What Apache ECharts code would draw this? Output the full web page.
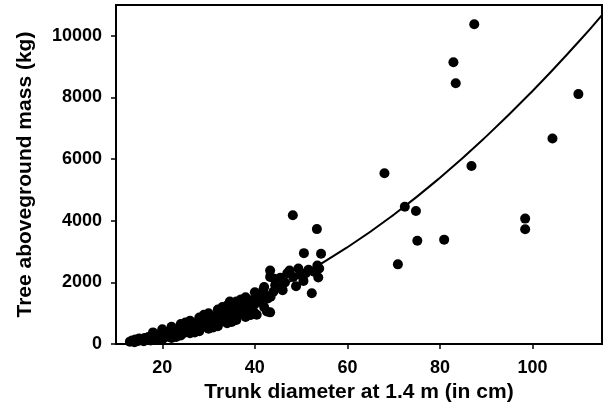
<!DOCTYPE html>
<html style="height: 100%">
<head>
  <meta charset="utf-8">
  <script type="text/javascript" src="https://cdn.jsdelivr.net/npm/echarts@6/dist/echarts.min.js"></script>
</head>
<body style="height: 100%; margin: 0; background: #fff">
  <div id="container" style="width: 604px; height: 408px"></div>
  <script type="text/javascript">
    // trunk diameter (cm) / aboveground mass (kg)
    var treePoints = [
      [13.0, 80], [13.5, 120], [14.0, 60], [14.2, 150], [14.8, 100], [15.0, 180], [15.5, 130], [16.0, 90],
      [16.2, 200], [16.8, 150], [17.0, 230], [17.5, 120], [17.8, 190], [18.2, 260], [18.5, 160], [19.0, 220],
      [19.3, 300], [19.8, 180], [20.0, 270], [20.3, 350], [20.8, 230], [21.0, 310], [21.5, 400], [21.8, 260],
      [22.0, 340], [22.5, 430], [22.8, 300], [23.0, 380], [23.5, 480], [23.8, 330], [24.0, 420], [24.5, 550],
      [24.8, 370], [25.0, 470], [25.5, 600], [25.8, 420], [26.0, 520], [26.5, 650], [26.8, 450], [27.0, 560],
      [27.5, 700], [28.0, 500], [28.2, 620], [28.6, 760], [29.0, 560], [29.4, 680], [29.8, 820], [30.0, 600],
      [30.4, 730], [30.8, 880], [31.0, 650], [31.5, 790], [31.8, 940], [32.0, 700], [32.5, 850], [32.8, 1000],
      [33.0, 760], [33.5, 900], [33.8, 1080], [34.0, 800], [34.5, 960], [34.6, 1380], [34.8, 1150], [35.0, 870],
      [35.5, 1030], [35.8, 1250], [36.0, 920], [36.5, 1100], [36.8, 1300], [37.0, 980], [37.5, 1170], [38.0, 1360],
      [38.3, 1050], [38.8, 1240], [39.2, 1420], [39.5, 1120], [40.0, 1300], [40.4, 950], [40.5, 1500], [41.0, 1380],
      [41.5, 1600], [41.8, 1750], [42.0, 1200], [42.6, 1060], [42.8, 1480], [43.3, 2180], [43.3, 2390], [43.4, 1540],
      [43.3, 1030], [44.0, 1700], [44.2, 2120], [44.4, 1910], [45.0, 1850], [45.5, 2150], [46.0, 1750], [46.5, 2000],
      [47.0, 2300], [47.5, 2390], [48.3, 2180], [48.9, 1880], [49.4, 2450], [49.8, 2250], [50.5, 2050], [51.0, 2300],
      [51.6, 2410], [52.3, 1650], [52.8, 2350], [53.5, 2550], [53.7, 2160], [53.9, 2450], [50.6, 2950], [54.3, 2930],
      [53.4, 3730], [48.2, 4180],
      // upper and lower edge of the dense band
      [18.0, 380], [20.0, 480], [22.0, 560], [24.0, 650], [25.0, 700], [26.0, 760], [28.0, 860], [29.0, 950],
      [30.0, 1000], [32.0, 1120], [33.0, 1200], [34.0, 1250], [36.0, 1380], [37.0, 1450], [38.0, 1520],
      [40.0, 1680], [42.0, 1850],
      [20.0, 150], [22.0, 200], [23.0, 230], [24.0, 280], [26.0, 350], [27.0, 380], [28.0, 420], [30.0, 500],
      [31.0, 540], [32.0, 580], [34.0, 680], [35.0, 720], [36.0, 780], [38.0, 880], [39.0, 940], [40.0, 1000],
      // large trees
      [68.0, 5545], [72.4, 4455], [74.8, 4316], [75.1, 3355], [80.9, 3388], [70.9, 2587], [86.8, 5779],
      [87.4, 10375], [82.9, 9144], [83.4, 8462], [109.9, 8109], [104.3, 6667], [98.4, 4071], [98.4, 3728]
    ];
    // fitted curve, read at a few diameters
    var fitLine = [
      [13, 177], [20, 399], [30, 854], [40, 1467], [50, 2232], [60, 3142], [70, 4198],
      [80, 5397], [90, 6738], [100, 8212], [110, 9815], [115, 10673]
    ];
    var xTicks = [20, 40, 60, 80, 100];
    var yTicks = [0, 2000, 4000, 6000, 8000, 10000];

    var dom = document.getElementById("container");
    var myChart = echarts.init(dom);
    var font = 'Liberation Sans, Arial, sans-serif';

    option = {
      animation: false,
      grid: {
        left: 116,
        right: 2,
        top: 5,
        bottom: 60,
        show: true,
        borderColor: '#000',
        borderWidth: 2
      },
      xAxis: {
        type: 'value',
        min: 10,
        max: 115,
        name: 'Trunk diameter at 1.4 m (in cm)',
        nameLocation: 'middle',
        nameGap: 35,
        nameTextStyle: { fontFamily: font, fontWeight: 'bold', fontSize: 21, color: '#000' },
        splitLine: { show: false },
        axisLine: { lineStyle: { color: '#000', width: 2 } },
        axisTick: { customValues: xTicks, length: 5, lineStyle: { color: '#000', width: 1.5 } },
        axisLabel: {
          customValues: xTicks,
          margin: 15,
          fontFamily: font, fontWeight: 'bold', fontSize: 18, color: '#000'
        }
      },
      yAxis: {
        type: 'value',
        min: 0,
        max: 11000,
        name: 'Tree aboveground mass (kg)',
        nameLocation: 'middle',
        nameGap: 80,
        nameTextStyle: { fontFamily: font, fontWeight: 'bold', fontSize: 21, color: '#000' },
        splitLine: { show: false },
        axisLine: { lineStyle: { color: '#000', width: 2 } },
        axisTick: { customValues: yTicks, length: 5, lineStyle: { color: '#000', width: 1.5 } },
        axisLabel: {
          customValues: yTicks,
          margin: 14,
          formatter: function (v) { return String(v); },
          fontFamily: font, fontWeight: 'bold', fontSize: 18, color: '#000'
        }
      },
      series: [{
        type: 'scatter',
        data: treePoints,
        symbolSize: 10,
        itemStyle: { color: '#000', opacity: 1 }
      }, {
        type: 'line',
        data: fitLine,
        smooth: true,
        showSymbol: false,
        lineStyle: { color: '#000', width: 2 }
      }]
    };
    myChart.setOption(option);
  </script>
</body>
</html>
